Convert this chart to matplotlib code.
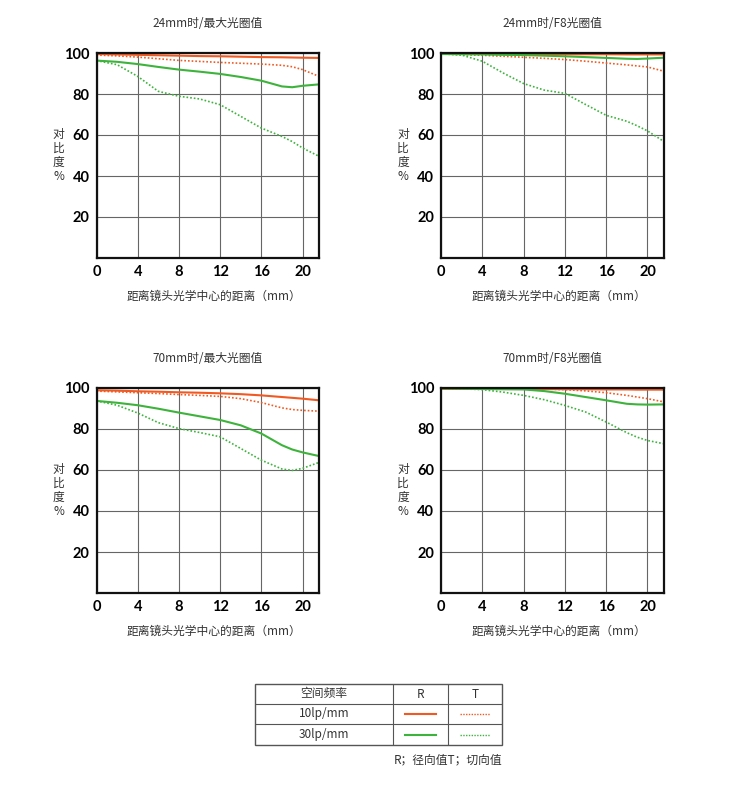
import numpy as np
import matplotlib.pyplot as plt
from matplotlib.lines import Line2D
from matplotlib.patches import Rectangle

plt.rcParams['font.family'] = ['Noto Sans CJK SC', 'DejaVu Sans']

ORANGE = '#f05a22'
GREEN = '#3db33c'

titles = ['24mm时/最大光圈值', '24mm时/F8光圈值', '70mm时/最大光圈值', '70mm时/F8光圈值']

# 24mm max aperture
x_a = [0, 2, 4, 6, 8, 10, 12, 14, 16, 18, 19, 20, 21.6]
r10_a = [99.5, 99.3, 99.1, 98.9, 98.7, 98.5, 98.4, 98.2, 98.0, 97.9, 97.8, 97.7, 97.6]
t10_a = [99.0, 98.6, 98.0, 97.2, 96.4, 95.9, 95.4, 95.0, 94.6, 94.0, 93.3, 91.9, 88.6]
r30_a = [96.3, 95.7, 94.6, 93.2, 91.9, 90.9, 89.8, 88.3, 86.5, 83.7, 83.3, 84.0, 84.7]
t30_a = [96.3, 94.3, 88.6, 81.3, 78.9, 77.6, 74.8, 69.1, 63.4, 59.3, 56.8, 53.7, 49.6]

# 24mm F8
x_b = [0, 2, 4, 6, 8, 10, 12, 14, 16, 18, 19, 20, 21.6]
r10_b = [99.6, 99.6, 99.6, 99.5, 99.5, 99.5, 99.4, 99.4, 99.4, 99.3, 99.3, 99.3, 99.3]
t10_b = [99.5, 99.2, 98.9, 98.4, 97.9, 97.4, 96.8, 96.0, 95.1, 94.2, 93.7, 93.2, 91.1]
r30_b = [99.5, 99.4, 99.3, 99.1, 99.0, 98.7, 98.4, 98.0, 97.6, 97.2, 97.1, 97.3, 97.7]
t30_b = [99.7, 99.0, 96.0, 90.3, 85.1, 81.9, 80.3, 74.9, 69.6, 66.7, 64.5, 62.0, 56.8]

# 70mm max aperture
x_c = [0, 2, 4, 6, 8, 10, 12, 14, 16, 18, 19, 20, 21.6]
r10_c = [98.9, 98.7, 98.4, 98.2, 97.9, 97.7, 97.4, 97.0, 96.4, 95.6, 95.2, 94.8, 94.0]
t10_c = [98.5, 98.1, 97.7, 97.3, 96.8, 96.4, 95.9, 94.8, 92.9, 90.3, 89.5, 89.1, 88.7]
r30_c = [93.7, 92.8, 91.6, 89.9, 88.0, 86.2, 84.4, 81.8, 77.8, 72.1, 70.0, 68.6, 66.8]
t30_c = [93.7, 91.6, 87.8, 83.1, 80.2, 78.3, 76.2, 70.5, 64.8, 60.5, 59.8, 60.8, 63.7]

# 70mm F8
x_d = [0, 2, 4, 6, 8, 10, 12, 14, 16, 18, 19, 20, 21.6]
r10_d = [99.6, 99.6, 99.6, 99.5, 99.5, 99.5, 99.4, 99.4, 99.3, 99.3, 99.2, 99.2, 99.2]
t10_d = [99.7, 99.7, 99.7, 99.7, 99.7, 99.5, 99.2, 98.6, 97.7, 96.4, 95.6, 94.8, 93.2]
r30_d = [99.8, 99.7, 99.5, 99.4, 99.3, 98.5, 97.2, 95.6, 94.0, 92.3, 92.0, 91.9, 92.0]
t30_d = [99.8, 99.6, 99.2, 98.0, 96.4, 94.3, 91.5, 88.3, 83.4, 78.2, 76.0, 74.4, 72.8]

panels = [
    (x_a, r10_a, t10_a, r30_a, t30_a),
    (x_b, r10_b, t10_b, r30_b, t30_b),
    (x_c, r10_c, t10_c, r30_c, t30_c),
    (x_d, r10_d, t10_d, r30_d, t30_d),
]

x_ticks = [0, 4, 8, 12, 16, 20]
y_ticks = [20, 40, 60, 80, 100]

W, H = 750, 791
fig = plt.figure(figsize=(W / 100, H / 100), dpi=100)

# axes boxes in pixels: left, top, right, bottom
boxes = [(96.5, 53, 319, 258), (441, 53, 664, 258),
         (96.5, 388, 319, 593), (441, 388, 664, 593)]

for i, (box, data) in enumerate(zip(boxes, panels)):
    l, t, r, b = box
    ax = fig.add_axes([l / W, 1 - b / H, (r - l) / W, (b - t) / H])
    x, r10, t10, r30, t30 = data
    ax.plot(x, r10, color=ORANGE, lw=1.5, solid_capstyle='butt')
    ax.plot(x, t10, color=ORANGE, lw=1.2, ls=(0, (1, 1.2)))
    ax.plot(x, r30, color=GREEN, lw=1.5)
    ax.plot(x, t30, color=GREEN, lw=1.2, ls=(0, (1, 1.2)))
    ax.set_xlim(0, 21.6)
    ax.set_ylim(0, 100)
    ax.set_xticks(x_ticks)
    ax.set_yticks(y_ticks)
    ax.set_xticklabels([str(v) for v in x_ticks], family='Lato', fontweight='bold', fontsize=10.5)
    ax.set_yticklabels([str(v) for v in y_ticks], family='Lato', fontweight='bold', fontsize=10.5)
    ax.tick_params(length=0, pad=5)
    ax.grid(True, color='#666666', lw=0.8)
    ax.set_axisbelow(True)
    for s in ax.spines.values():
        s.set_color('#111111')
        s.set_linewidth(1.6)
    ax.set_title(titles[i], fontsize=8.5, color='#333333', pad=19)
    ax.set_xlabel('距离镜头光学中心的距离（mm）', fontsize=8.5, color='#333333')
    ax.xaxis.set_label_coords(0.53, -0.155)
    ax.set_ylabel('对\n比\n度\n%', fontsize=8.5, color='#333333', rotation=0,
                  va='center', ha='center', linespacing=1.1)
    ax.yaxis.set_label_coords(-0.17, 0.5)

# legend table
tl, tt, tr, tb = 255, 684, 502, 745
tax = fig.add_axes([tl / W, 1 - tb / H, (tr - tl) / W, (tb - tt) / H])
tax.set_xlim(tl, tr)
tax.set_ylim(tb, tt)
tax.axis('off')
tax.add_patch(Rectangle((tl, tt), tr - tl, tb - tt, fill=False, ec='#555555', lw=1.0, clip_on=False))
for yy in [704, 724]:
    tax.plot([tl, tr], [yy, yy], color='#555555', lw=0.8)
for xx in [393, 448]:
    tax.plot([xx, xx], [tt, tb], color='#555555', lw=0.8)
tax.text(324, 694, '空间频率', ha='center', va='center', fontsize=8.5, color='#333333')
tax.text(420.5, 694, 'R', ha='center', va='center', fontsize=8.5, color='#333333')
tax.text(475, 694, 'T', ha='center', va='center', fontsize=8.5, color='#333333')
tax.text(324, 714, '10lp/mm', ha='center', va='center', fontsize=8.5, color='#333333')
tax.text(324, 734.5, '30lp/mm', ha='center', va='center', fontsize=8.5, color='#333333')
tax.plot([405, 436], [714, 714], color=ORANGE, lw=1.5)
tax.plot([460, 490], [714, 714], color=ORANGE, lw=1.0, ls=(0, (1, 1)))
tax.plot([405, 436], [734.5, 734.5], color=GREEN, lw=1.5)
tax.plot([460, 490], [734.5, 734.5], color=GREEN, lw=1.0, ls=(0, (1, 1)))

fig.text(502 / W, 1 - 760 / H, 'R；径向值T；切向值', ha='right', va='center', fontsize=8.5, color='#333333')

fig.savefig('out.png', dpi=100, facecolor='white')
